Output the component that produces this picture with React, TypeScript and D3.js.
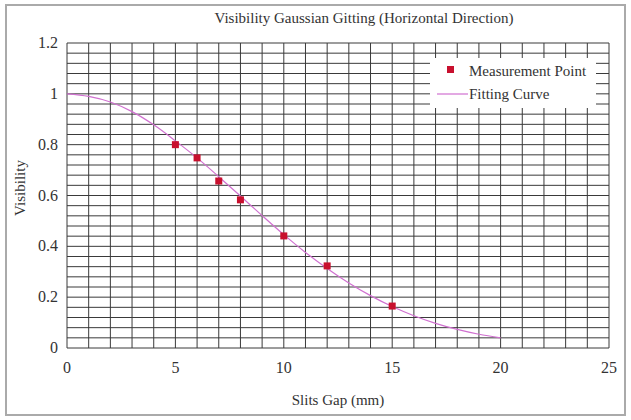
import React from 'react'
import * as d3 from 'd3'

// measured points (slits gap in mm, visibility)
const pointGap = [5, 6, 7, 8, 10, 12, 15]
const pointVis = [0.8, 0.748, 0.657, 0.583, 0.441, 0.323, 0.165]

// fitting curve
const curveGap = [0, 1, 2, 3, 4, 5, 6, 7, 8, 9, 10, 11, 12, 13, 14, 15, 16, 17, 18, 19, 20]
const curveVis = [1.0, 0.99, 0.968, 0.93, 0.878, 0.815, 0.748, 0.674, 0.598, 0.521, 0.446, 0.376, 0.313, 0.256, 0.206, 0.163, 0.127, 0.097, 0.073, 0.054, 0.04]

const xTicks = [0, 5, 10, 15, 20, 25]
const yTicks = [0, 0.2, 0.4, 0.6, 0.8, 1, 1.2]

const W = 631
const H = 420
const margin = { left: 67, right: 22, top: 43, bottom: 72 }

export default function App() {
  const x = d3.scaleLinear().domain([0, 25]).range([margin.left, W - margin.right])
  const y = d3.scaleLinear().domain([0, 1.2]).range([H - margin.bottom, margin.top])

  const vGrid = d3.range(0, 26)
  const hGrid = d3.range(0, 31).map(i => i * 0.04)

  const line = d3.line<number>()
    .x((_, i) => x(curveGap[i]))
    .y(d => y(d))
    .curve(d3.curveMonotoneX)

  const font = '"Liberation Serif", "Times New Roman", serif'
  const textCol = '#333'

  return (
    <svg width={W} height={H} style={{ position: 'absolute', left: 0, top: 0, background: '#fff' }}
      fontFamily={font}>
      <rect x={6} y={5} width={619} height={410} fill="none" stroke="#aaa" strokeWidth={2} />

      <g stroke="#3a3a3a" strokeWidth={1}>
        {vGrid.map(v => (
          <line key={'v' + v} x1={x(v)} x2={x(v)} y1={y(0)} y2={y(1.2)} />
        ))}
        {hGrid.map((v, i) => (
          <line key={'h' + i} x1={x(0)} x2={x(25)} y1={y(v)} y2={y(v)} />
        ))}
      </g>

      {/* legend box */}
      <rect x={430} y={58} width={166} height={50} fill="#fff" />

      <path d={line(curveVis) || ''} fill="none" stroke="#d070d0" strokeWidth={1.2} />

      {pointGap.map((g, i) => (
        <rect key={i} x={x(g) - 3.5} y={y(pointVis[i]) - 3.5} width={7} height={7} fill="#c8102e" />
      ))}

      <g fill={textCol} fontSize={15}>
        <text x={364} y={23} textAnchor="middle">Visibility Gaussian Gitting (Horizontal Direction)</text>
        {yTicks.map(t => (
          <text key={t} x={58} y={y(t) + 5} textAnchor="end" fontSize={16}>{t}</text>
        ))}
        {xTicks.map(t => (
          <text key={t} x={x(t)} y={373} textAnchor="middle" fontSize={16}>{t}</text>
        ))}
        <text x={x(12.5)} y={405} textAnchor="middle">Slits Gap (mm)</text>
        <text transform={`translate(25, 188) rotate(-90)`} textAnchor="middle">Visibility</text>

        <rect x={447} y={66} width={7} height={7} fill="#c8102e" />
        <text x={469} y={76}>Measurement Point</text>
        <line x1={437} x2={468} y1={94} y2={94} stroke="#d070d0" strokeWidth={1.2} />
        <text x={469} y={99}>Fitting Curve</text>
      </g>
    </svg>
  )
}
